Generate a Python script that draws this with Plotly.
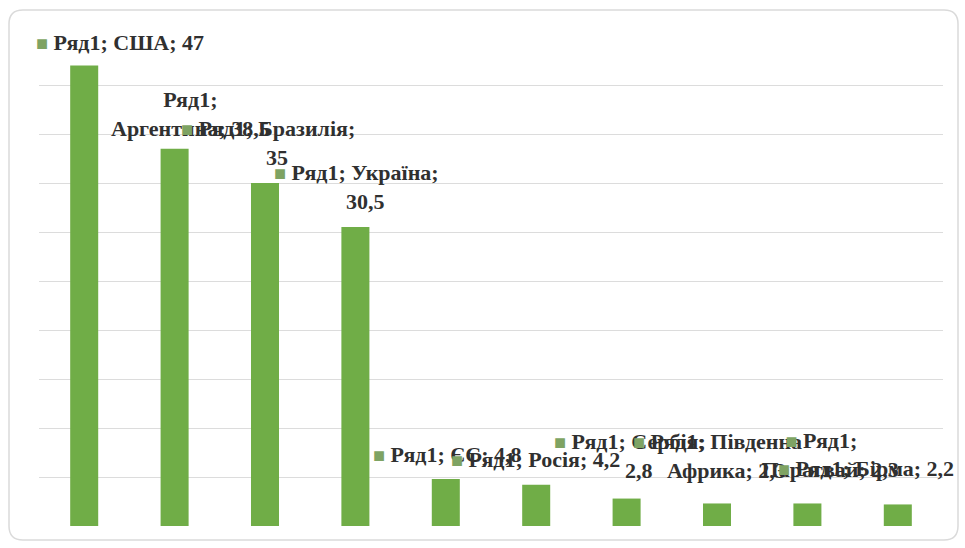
import plotly.graph_objects as go

# Corn exports by country, Ряд1
countries = ["США", "Аргентина", "Бразилія", "Україна", "ЄС", "Росія",
             "Сербія", "Південна Африка", "Парагвай", "Бірма"]
values = [47, 38.5, 35, 30.5, 4.8, 4.2, 2.8, 2.3, 2.3, 2.2]
series_name = "Ряд1"

# label layout: line breaks after which word groups, and pixel offsets from bar top
label_lines = [
    ["{s}; {c}; {v}"],
    ["{s};", "{c}; {v}"],
    ["{s}; {c};", "{v}"],
    ["{s}; {c};", "{v}"],
    ["{s}; {c}; {v}"],
    ["{s}; {c}; {v}"],
    ["{s}; {c};", "{v}"],
    ["{s}; Південна", "Африка; {v}"],
    ["{s};", "{c}; {v}"],
    ["{s}; {c}; {v}"],
]
show_key = [True, False, True, True, True, True, True, True, True, True]
label_dx = [36, 16, 3, 1, 1, -1, 3, 0, 14, -32]
label_dy = [23, 35, 40, 40, 24, 25, 43, 47, 48, 36]

GREEN = "#70AD47"
KEY_GREEN = "#7ea363"
KEY = f"<span style='color:{KEY_GREEN};font-size:20px'>■</span> "
KEY_PAD = "<span style='color:rgba(0,0,0,0);font-size:20px'>■</span> "

fig = go.Figure(go.Bar(
    x=list(range(len(countries))),
    y=values,
    marker=dict(color=GREEN, line=dict(width=0)),
    hoverinfo="skip",
))

W, H = 965, 548
L, R, T, B = 39, 22, 36, 22
pw, ph = W - L - R, H - T - B

fig.update_layout(
    width=W, height=H,
    margin=dict(l=L, r=R, t=T, b=B),
    paper_bgcolor="white", plot_bgcolor="white",
    bargap=0.69,
    showlegend=False,
    xaxis=dict(range=[-0.5, len(countries) - 0.5], showticklabels=False,
               showgrid=False, zeroline=False, showline=False, ticks=""),
    yaxis=dict(range=[0, 50], dtick=5, showticklabels=False, showgrid=True,
               gridcolor="#dcdcdc", gridwidth=1, zeroline=False,
               showline=False, ticks=""),
)

for i, (c, v) in enumerate(zip(countries, values)):
    vs = str(v).replace(".", ",")
    lines = [ln.format(s=series_name, c=c, v=vs) for ln in label_lines[i]]
    if show_key[i]:
        lines = [KEY + lines[0]] + [KEY_PAD + ln for ln in lines[1:]]
    fig.add_annotation(
        x=i, y=v, xref="x", yref="y",
        text="<br>".join(lines),
        showarrow=False, align="center",
        xanchor="center", yanchor="middle",
        xshift=label_dx[i], yshift=label_dy[i],
        font=dict(family="Liberation Serif, Times New Roman, serif",
                  size=22, color="#303030", weight="bold"),
    )

# rounded chart-area frame
def px2paper(px, py):
    return (px - L) / pw, (H - B - py) / ph

def P(px, py):
    a, b = px2paper(px, py)
    return f"{a:.5f},{b:.5f}"

x0, y0, x1, y1, r = 9, 10, 958, 540, 14
path = (f"M {P(x0 + r, y0)} L {P(x1 - r, y0)} Q {P(x1, y0)} {P(x1, y0 + r)} "
        f"L {P(x1, y1 - r)} Q {P(x1, y1)} {P(x1 - r, y1)} "
        f"L {P(x0 + r, y1)} Q {P(x0, y1)} {P(x0, y1 - r)} "
        f"L {P(x0, y0 + r)} Q {P(x0, y0)} {P(x0 + r, y0)} Z")
fig.add_shape(type="path", path=path, xref="paper", yref="paper",
              line=dict(color="#dadada", width=1.5), layer="below")

fig.write_html("out.html")
